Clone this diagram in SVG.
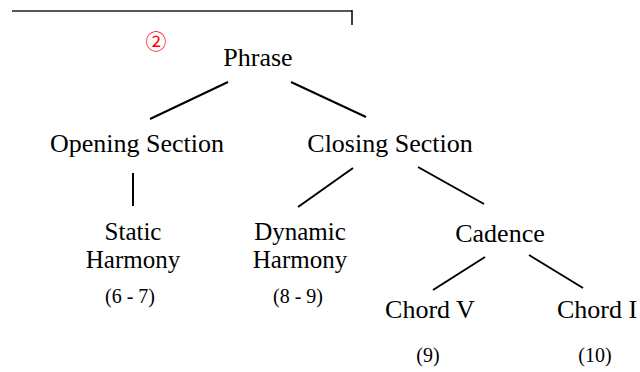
<svg xmlns="http://www.w3.org/2000/svg" width="640" height="372" viewBox="0 0 640 372">
<style>
.t{font-family:"Liberation Serif","Times New Roman",serif;font-size:26px;fill:#000;text-anchor:middle}
.s{font-family:"Liberation Serif","Times New Roman",serif;font-size:25px;fill:#000;text-anchor:middle}
.n{font-family:"Liberation Serif","Times New Roman",serif;font-size:20px;fill:#000;text-anchor:middle}
.e{stroke:#000;stroke-width:2;fill:none}
</style>
<rect width="640" height="372" fill="#fff"/>
<g id="frame">
<line x1="12" y1="11" x2="352" y2="11" stroke="#555" stroke-width="2"/>
<line x1="352" y1="10" x2="352" y2="25" stroke="#000" stroke-width="1.5"/>
</g>
<g id="marker-2"><text x="156" y="49" font-family="'Noto Sans CJK JP','DejaVu Sans',sans-serif" font-size="21" fill="#f00" text-anchor="middle">②</text></g>
<g id="connectors">
<line class="e" x1="228" y1="82" x2="150" y2="119"/>
<line class="e" x1="291" y1="82" x2="366" y2="117"/>
<line class="e" x1="133" y1="173" x2="133" y2="206"/>
<line class="e" x1="353" y1="168" x2="298" y2="207"/>
<line class="e" x1="418" y1="167" x2="484" y2="204"/>
<line class="e" x1="485" y1="257" x2="433" y2="290"/>
<line class="e" x1="529" y1="255" x2="583" y2="288"/>
</g>
<g id="phrase"><text class="t" x="258" y="66">Phrase</text></g>
<g id="opening"><text class="t" x="137" y="152">Opening Section</text></g>
<g id="closing"><text class="t" x="390" y="152">Closing Section</text></g>
<g id="static"><text class="s" x="133" y="240">Static</text><text class="s" x="133" y="268">Harmony</text><text class="n" x="130" y="303">(6 - 7)</text></g>
<g id="dynamic"><text class="s" x="300" y="240">Dynamic</text><text class="s" x="300" y="268">Harmony</text><text class="n" x="298" y="303">(8 - 9)</text></g>
<g id="cadence"><text class="t" x="500" y="242">Cadence</text></g>
<g id="chordV"><text class="t" x="430" y="318">Chord V</text><text class="n" x="428" y="362">(9)</text></g>
<g id="chordI"><text class="t" x="597" y="318">Chord I</text><text class="n" x="595" y="362">(10)</text></g>
</svg>
